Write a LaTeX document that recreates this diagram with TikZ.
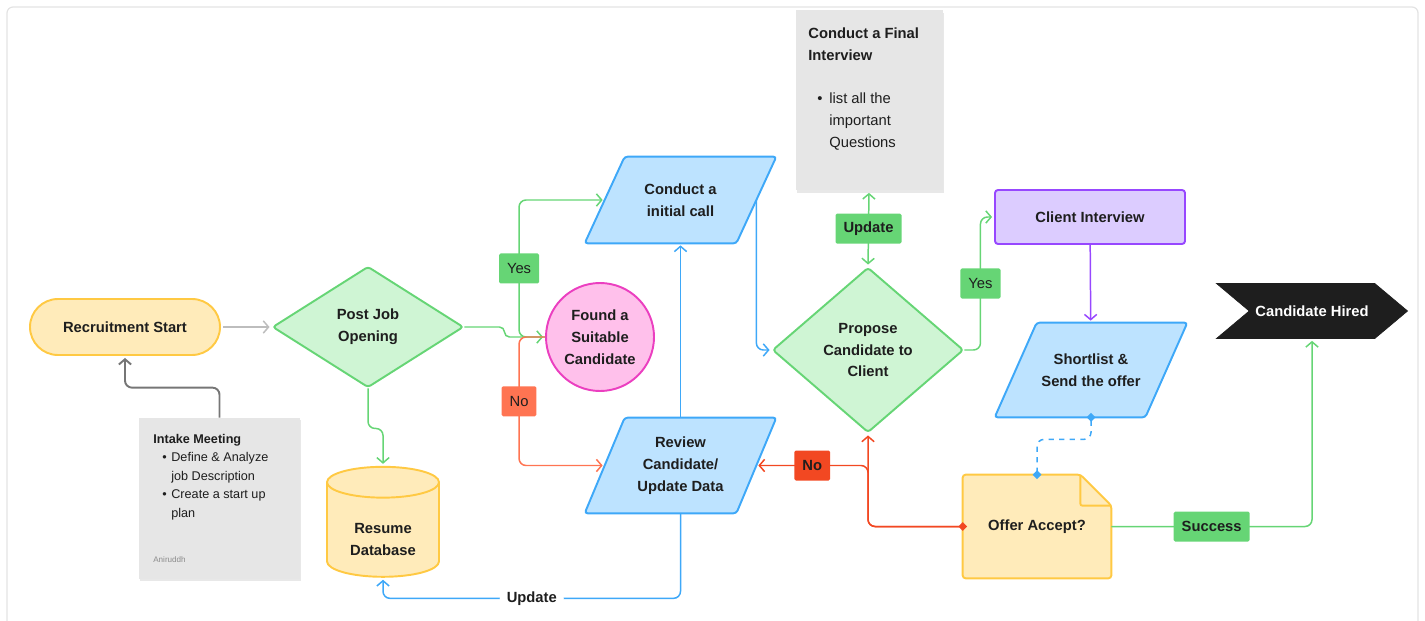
\documentclass[tikz,border=0pt]{standalone}
\usepackage{fontspec}
\setmainfont{Liberation Sans}
\usetikzlibrary{arrows.meta,positioning,shapes.geometric,shapes.symbols,calc,backgrounds,shadows}
\definecolor{Ink}{HTML}{1E1E1E}
\definecolor{FrameGray}{HTML}{E3E3E3}
\definecolor{AmberFill}{HTML}{FFEBBA}
\definecolor{AmberLine}{HTML}{FFC943}
\definecolor{MintFill}{HTML}{CFF5D4}
\definecolor{MintLine}{HTML}{66D575}
\definecolor{SkyFill}{HTML}{BDE3FF}
\definecolor{SkyLine}{HTML}{3EA8F8}
\definecolor{RoseFill}{HTML}{FFC0EB}
\definecolor{RoseLine}{HTML}{EB3FC0}
\definecolor{LilacFill}{HTML}{DCCCFF}
\definecolor{LilacLine}{HTML}{9747FF}
\definecolor{NoteGray}{HTML}{E6E6E6}
\definecolor{Salmon}{HTML}{FF7452}
\definecolor{Alert}{HTML}{F24822}
\definecolor{LinkGray}{HTML}{BDBDBD}
\definecolor{SlateGray}{HTML}{767676}
\newlength{\px}\setlength{\px}{0.02cm}
% slanted frame behind a data node: node name, half of the slant (px)
\newcommand{\slantframe}[2]{%
  \draw[SkyLine, fill=SkyFill, line width=1.1pt, rounded corners=3\px]
    ($(#1.north west)+(#2,0)$) -- ($(#1.north east)+(#2,0)$)
    -- ($(#1.south east)+(-#2,0)$) -- ($(#1.south west)+(-#2,0)$) -- cycle;}

\begin{document}
\begin{tikzpicture}[x=0.02cm, y=-0.02cm,
    >={Straight Barb[length=3pt,width=7pt]},
    every node/.style={text=Ink, align=center, inner sep=0pt},
    label font/.style={font=\fontsize{8.4}{12.5}\selectfont\bfseries},
    startbox/.style={label font, rectangle, rounded corners=28\px, draw=AmberLine, fill=AmberFill, line width=1.1pt, minimum width=190\px, minimum height=56\px},
    decision/.style={label font, diamond, rounded corners=3\px, draw=MintLine, fill=MintFill, line width=1.1pt, minimum width=191\px},
    iobox/.style={label font, rectangle, minimum width=151\px},
    found/.style={label font, circle, draw=RoseLine, fill=RoseFill, line width=1.1pt, minimum size=108\px},
    store/.style={label font, cylinder, shape border rotate=90, aspect=0.47, draw=AmberLine, fill=AmberFill, line width=1.1pt, minimum width=112\px, minimum height=110\px},
    process/.style={label font, rectangle, rounded corners=3\px, draw=LilacLine, fill=LilacFill, line width=1.1pt, minimum width=190\px, minimum height=54\px},
    terminal/.style={label font, signal, signal from=west, signal to=east, signal pointer angle=80, fill=Ink, draw=Ink, text=white, minimum width=191\px, minimum height=55\px},
    note/.style={rectangle, fill=NoteGray, drop shadow={shadow xshift=0.6pt, shadow yshift=-1.2pt, opacity=0.18}},
    tag/.style={fill=#1, rounded corners=1.5\px, font=\fontsize{8.4}{10}\selectfont, inner xsep=8\px, minimum height=30\px},
    link/.style={->, line width=0.85pt, rounded corners=7\px, shorten >=2\px}
  ]
  \useasboundingbox (0,0) rectangle (1425,621);
  \draw[FrameGray, line width=0.7pt, rounded corners=6\px] (7,7) rectangle (1418,660);

  % Left column
  \node[startbox] (start) at (125,327) {Recruitment Start};
  \node[note, minimum width=161\px, minimum height=161\px] (intake) at (219.5,498.5) {};
  \node[anchor=north west, align=left, font=\fontsize{7.2}{10.5}\selectfont] (intaketext) at (153,434)
    {{\bfseries Intake Meeting}\\
     \hspace*{9\px}\makebox[9\px][l]{\textbullet}Define \& Analyze\\
     \hspace*{18\px}job Description\\
     \hspace*{9\px}\makebox[9\px][l]{\textbullet}Create a start up\\
     \hspace*{18\px}plan};
  \node[anchor=west, font=\fontsize{4.6}{6}\selectfont, text=black!45] (author) at (153,560) {Aniruddh};

  % Middle
  \node[decision, minimum height=121\px] (post) at (368,327) {Post Job\\Opening};
  \node[store] (resume) at (383,530)
    {\raisebox{-14\px}[0pt][0pt]{\begin{tabular}{@{}c@{}}Resume\\Database\end{tabular}}};
  \node[found] (suitable) at (600,337) {Found a\\Suitable\\Candidate};
  \node[iobox, minimum height=86\px] (call) at (680.5,200) {Conduct a\\initial call};
  \node[iobox, minimum height=95\px] (review) at (680.5,465.5) {Review\\Candidate/\\Update Data};

  % Right
  \node[decision, minimum height=165\px] (propose) at (868,350) {Propose\\Candidate to\\Client};
  \node[note, minimum width=147\px, minimum height=180\px] (final) at (869,100.5) {};
  \node[anchor=north west, align=left, font=\fontsize{8.4}{12.5}\selectfont] (finaltext) at (808,27)
    {{\bfseries Conduct a Final}\\
     {\bfseries Interview}\\[22\px]
     \hspace*{9\px}\makebox[12\px][l]{\textbullet}list all the\\
     \hspace*{21\px}important\\
     \hspace*{21\px}Questions};
  \node[process] (client) at (1090,217) {Client Interview};
  \node[iobox, minimum width=150\px, minimum height=94\px] (shortlist) at (1091,370) {Shortlist \&\\Send the offer};
  \node[terminal] (hired) at (1312,311) {Candidate Hired};
  \node[label font, minimum width=148\px, minimum height=103\px] (offer) at (1037,526.5) {Offer Accept?};
  \begin{pgfonlayer}{background}
    \slantframe{call}{20}
    \slantframe{review}{20}
    \slantframe{shortlist}{21}
    \draw[AmberLine, fill=AmberFill, line width=1.1pt, rounded corners=3\px]
      (offer.north west) -- ($(offer.north east)+(-31,0)$) -- ($(offer.north east)+(0,31)$)
      -- (offer.south east) -- (offer.south west) -- cycle;
  \end{pgfonlayer}
  \draw[AmberLine, line width=1.1pt, rounded corners=2\px]
    ($(offer.north east)+(-31,0)$) |- ($(offer.north east)+(0,31)$);

  % Connectors
  \coordinate (fork) at ($(suitable.west)+(-26,0)$);
  \draw[link, LinkGray, shorten <=2\px] (start) -- (post);
  \draw[link, SlateGray, line width=1.1pt] (intake.north) -- ++(0,-30) -| (start.south);
  \draw[link, MintLine] (post.south) -- ++(0,40) -| (resume.north);
  \draw[link, MintLine, rounded corners=5\px] (post.east) -- ++(40,0) |- (suitable.west);
  \draw[link, MintLine] (suitable.west) -- (fork) |- node[pos=0.25, tag=MintLine] {Yes} (call.west);
  \draw[link, Salmon] (suitable.west) -- (fork) |- node[pos=0.25, tag=Salmon] {No} (review.west);
  \draw[link, SkyLine] (review.north) -- (call.south);
  \draw[link, SkyLine] (call.east) |- (propose.west);
  \draw[link, SkyLine] (review.south) -- ++(0,85) -| node[pos=0.25, fill=white, inner xsep=4pt, label font] {Update} (resume.south);
  \draw[link, MintLine, <->, shorten <=2\px] (propose.north) -- node[tag=MintLine, font=\fontsize{8.4}{10}\selectfont\bfseries] {Update} (final.south);
  \draw[link, MintLine] (propose.east) -- ++(16,0) |- node[pos=0.25, tag=MintLine] {Yes} (client.west);
  \draw[link, LilacLine] (client) -- (shortlist);
  \draw[link, SkyLine, dashed, arrows={Diamond[length=5pt,width=5pt]-Diamond[length=5pt,width=5pt]}, shorten <=-2.5pt, shorten >=-2.5pt]
    (shortlist.south) -- ++(0,22) -| (offer.north);
  \draw[link, Alert, arrows={Diamond[length=5pt,width=5pt]-Straight Barb[length=3pt,width=7pt]}, shorten <=-2.5pt] (offer.west) -| (propose.south);
  \draw[link, Alert] (offer.west) -| (propose.south |- review.east) -- node[tag=Alert, font=\fontsize{8.4}{10}\selectfont\bfseries] {No} (review.east);
  \draw[link, MintLine] (offer.east) -| node[pos=0.25, tag=MintLine, font=\fontsize{8.4}{10}\selectfont\bfseries] {Success} (hired.south);
\end{tikzpicture}
\end{document}
